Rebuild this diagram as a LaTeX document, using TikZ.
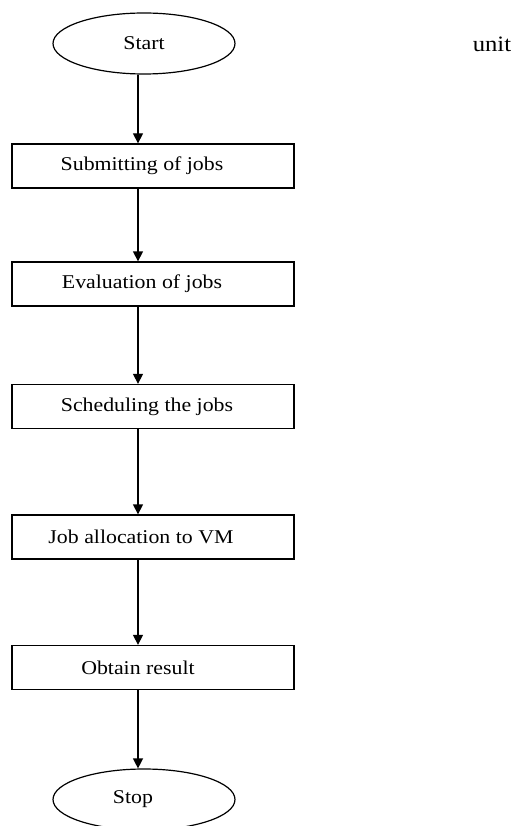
\documentclass[tikz,border=0pt]{standalone}
\usepackage{fontspec}
\setmainfont{Liberation Serif}
\usetikzlibrary{shapes.geometric,arrows.meta}
\newcommand{\wtxt}[1]{\scalebox{1.12}[1]{#1}}
\begin{document}
\begin{tikzpicture}[x=1pt,y=-1pt,
  term/.style={draw,ellipse,line width=1.2pt,minimum width=182pt,minimum height=61pt,inner sep=0pt,font=\fontsize{19.5}{22}\selectfont},
  stepbox/.style={draw,rectangle,line width=1.3pt,minimum width=282pt,minimum height=44pt,inner sep=0pt,font=\fontsize{19.5}{22}\selectfont},
  arr/.style={line width=1.3pt,-{Triangle[length=10pt,width=10pt]}}]
\useasboundingbox (0,0) rectangle (517,826);
\clip (0,0) rectangle (517,826);
\node[term] (start) at (144,43.5) {\wtxt{Start}};
\node[font=\fontsize{22}{26}\selectfont] (unit) at (492,44) {\wtxt{unit}};
\node[stepbox] (b1) at (153,166) {\hspace*{-22pt}\wtxt{Submitting of jobs}};
\node[stepbox] (b2) at (153,284) {\hspace*{-22pt}\wtxt{Evaluation of jobs}};
\node[stepbox] (b3) at (153,406.5) {\hspace*{-12pt}\wtxt{Scheduling the jobs}};
\node[stepbox] (b4) at (153,537) {\hspace*{-24pt}\wtxt{Job allocation to VM}};
\node[stepbox] (b5) at (153,667.5) {\hspace*{-30pt}\wtxt{Obtain result}};
\node[term] (stop) at (144,799.5) {\hspace*{-22pt}\wtxt{Stop}};
\draw[arr] ([xshift=-6pt]start.south) -- ([xshift=-15pt]b1.north);
\draw[arr] ([xshift=-15pt]b1.south) -- ([xshift=-15pt]b2.north);
\draw[arr] ([xshift=-15pt]b2.south) -- ([xshift=-15pt]b3.north);
\draw[arr] ([xshift=-15pt]b3.south) -- ([xshift=-15pt]b4.north);
\draw[arr] ([xshift=-15pt]b4.south) -- ([xshift=-15pt]b5.north);
\draw[arr] ([xshift=-15pt]b5.south) -- ([xshift=-6pt]stop.north);
\end{tikzpicture}
\end{document}
